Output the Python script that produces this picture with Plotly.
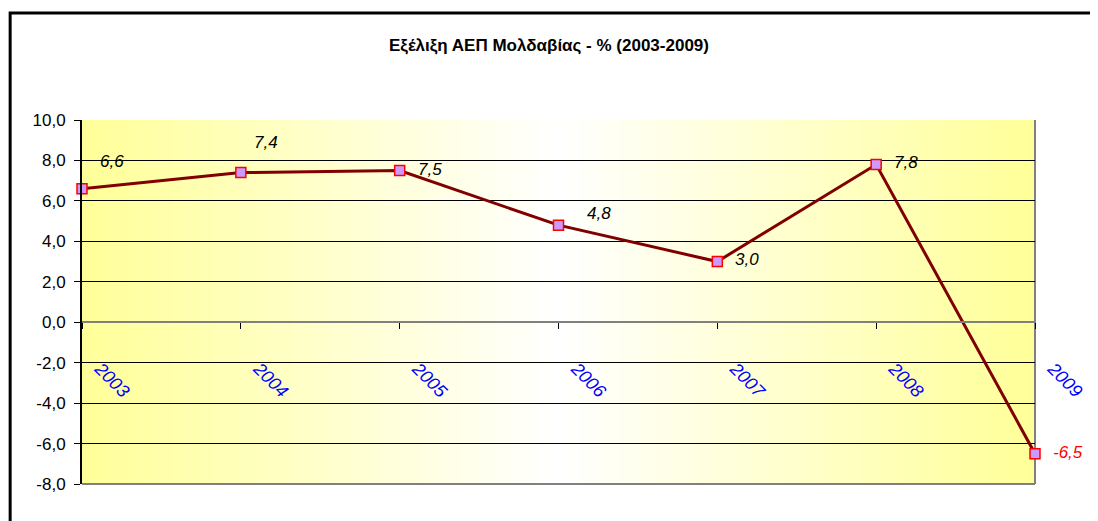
import base64
import struct
import zlib

import plotly.graph_objects as go

# ---- data ----
years = ["2003", "2004", "2005", "2006", "2007", "2008", "2009"]
gdp_growth = [6.6, 7.4, 7.5, 4.8, 3.0, 7.8, -6.5]
y_ticks = [-8, -6, -4, -2, 0, 2, 4, 6, 8, 10]

title_text = "Εξέλιξη ΑΕΠ Μολδαβίας - % (2003-2009)"

FONT = "Liberation Sans Narrow, Arial Narrow, Liberation Sans, Arial, sans-serif"


def fmt(v):
    return f"{v:.1f}".replace(".", ",")


# ---- horizontal gradient background (yellow - white - yellow) as a small PNG ----
def gradient_png(width=256):
    edge = (255, 255, 153)
    row = bytearray([0])
    for i in range(width):
        t = abs(i / (width - 1) - 0.5) * 2  # 1 at edges, 0 at center
        r = round(255 + (edge[0] - 255) * t)
        g = round(255 + (edge[1] - 255) * t)
        b = round(255 + (edge[2] - 255) * t)
        row += bytes([r, g, b])

    def chunk(tag, data):
        c = struct.pack(">I", len(data)) + tag + data
        return c + struct.pack(">I", zlib.crc32(tag + data) & 0xFFFFFFFF)

    ihdr = struct.pack(">IIBBBBB", width, 1, 8, 2, 0, 0, 0)
    png = b"\x89PNG\r\n\x1a\n" + chunk(b"IHDR", ihdr) + chunk(b"IDAT", zlib.compress(bytes(row))) + chunk(b"IEND", b"")
    return "data:image/png;base64," + base64.b64encode(png).decode()


fig = go.Figure()

fig.add_trace(
    go.Scatter(
        x=years,
        y=gdp_growth,
        mode="lines+markers",
        line=dict(color="#800000", width=3),
        marker=dict(symbol="square", size=10, color="#CC99FF", line=dict(color="#FF0000", width=1.5)),
        cliponaxis=False,
        hoverinfo="x+y",
        showlegend=False,
    )
)

# data labels (x given as category index)
label_offsets = [(30, 27), (25, 30), (30, 1), (40, 12), (30, 2), (30, 2), (33, 1)]
for i, (v, (dx, dy)) in enumerate(zip(gdp_growth, label_offsets)):
    fig.add_annotation(
        x=i, y=v, xref="x", yref="y", text=fmt(v), showarrow=False,
        xshift=dx, yshift=dy,
        font=dict(family=FONT, size=17, color="#FF0000" if v < 0 else "#000000", style="italic"),
    )

# page has an 8px body margin: compensate so the plot area lands where the reference has it
PAGE_OFF = 8
W, H = 1098 - PAGE_OFF, 521 - PAGE_OFF
L, T = 82 - PAGE_OFF, 120 - PAGE_OFF
pw, ph = 955, 364
R, B = W - L - pw, H - T - ph

fig.update_layout(
    width=W, height=H,
    margin=dict(l=L, r=R, t=T, b=B),
    paper_bgcolor="white",
    plot_bgcolor="rgba(0,0,0,0)",
    title=dict(
        text=f"<b>{title_text}</b>",
        x=(549 - PAGE_OFF) / W, xref="container", xanchor="center",
        y=1 - (45 - PAGE_OFF) / H, yref="container", yanchor="middle",
        font=dict(family=FONT, size=17, color="black"),
    ),
    images=[dict(
        source=gradient_png(), xref="paper", yref="paper",
        x=0, y=1, sizex=1, sizey=1, sizing="stretch",
        xanchor="left", yanchor="top", layer="below",
    )],
    xaxis=dict(
        type="category",
        range=[0, len(years) - 1],
        anchor="free",
        position=(0 - min(y_ticks)) / (max(y_ticks) - min(y_ticks)),
        showgrid=False,
        showline=True, linecolor="#808080", linewidth=2,
        ticks="outside", ticklen=6, tickcolor="black", tickwidth=1,
        tickangle=45,
        ticklabelstandoff=22,
        ticklabelshift=18,
        tickfont=dict(family=FONT, size=18, color="#0000FF", style="italic"),
        fixedrange=True,
    ),
    yaxis=dict(
        range=[min(y_ticks), max(y_ticks)],
        tickmode="array",
        tickvals=y_ticks,
        ticktext=[fmt(v) for v in y_ticks],
        showgrid=True, gridcolor="black", gridwidth=1,
        zeroline=False,
        showline=True, linecolor="black", linewidth=2,
        ticks="outside", ticklen=6, tickcolor="black",
        ticklabelstandoff=5,
        tickfont=dict(family=FONT, size=17, color="black"),
        fixedrange=True,
    ),
    shapes=[
        # plot area right and bottom border (gray)
        dict(type="line", xref="paper", yref="paper", x0=1, x1=1, y0=0, y1=1,
             line=dict(color="#808080", width=2), layer="below"),
        dict(type="line", xref="paper", yref="paper", x0=0, x1=1, y0=0, y1=0,
             line=dict(color="#808080", width=2), layer="below"),
        # outer chart frame
        dict(type="rect", xref="paper", yref="paper",
             x0=(10 - 82) / pw, x1=(1098 + 20 - 82) / pw,
             y0=-(521 - 484 + 20) / ph, y1=1 + (120 - 13) / ph,
             line=dict(color="black", width=3), fillcolor="rgba(0,0,0,0)", layer="above"),
    ],
)

fig.write_html("out.html")
